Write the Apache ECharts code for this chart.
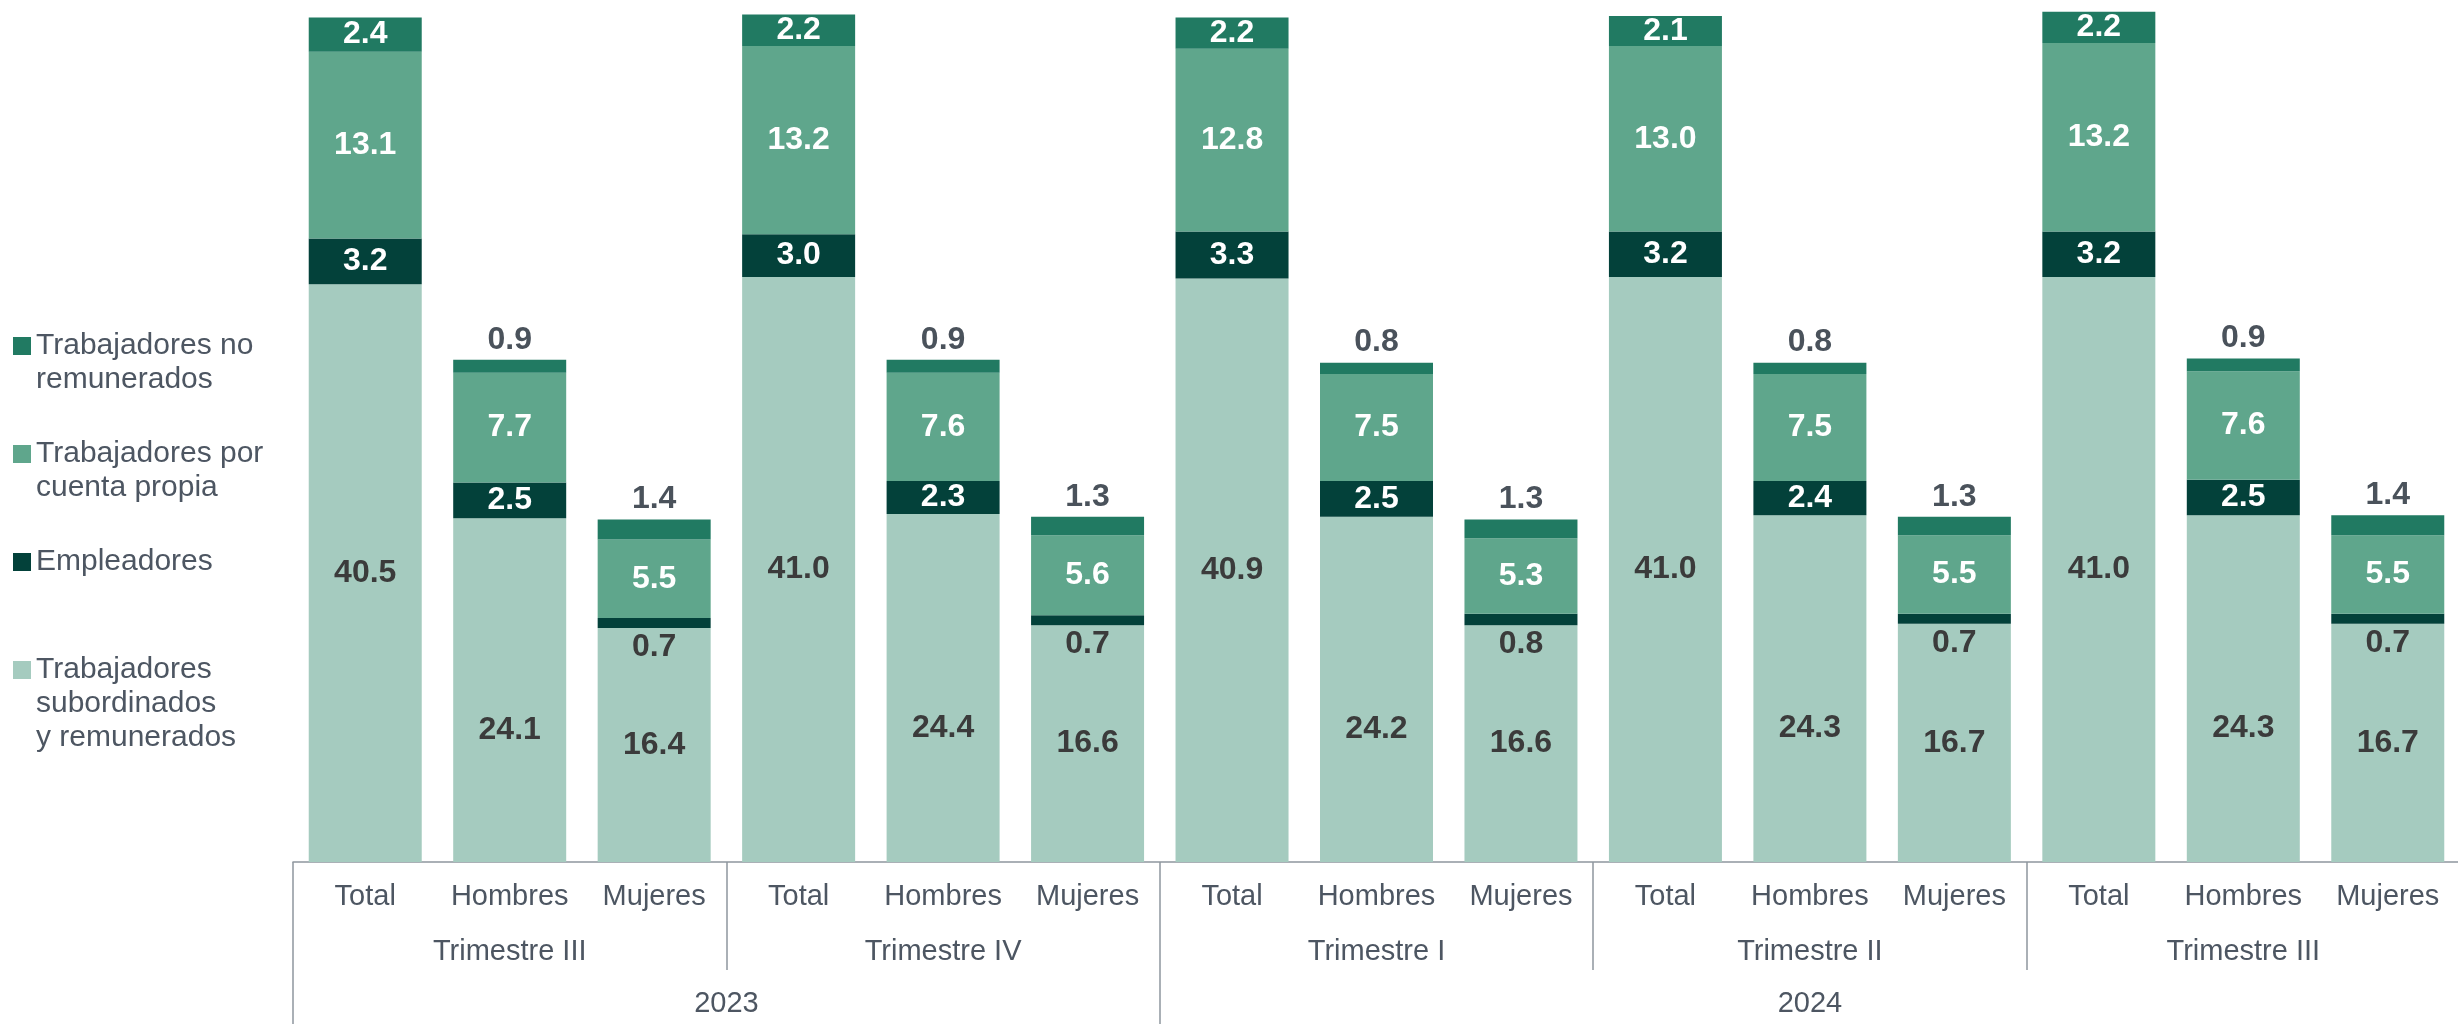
<!DOCTYPE html>
<html>
<head>
<meta charset="utf-8">
<title>Población ocupada según posición en la ocupación</title>
<script src="https://cdn.jsdelivr.net/npm/echarts@6/dist/echarts.min.js"></script>
<style>
    html, body { margin: 0; padding: 0; background: #ffffff; }
    #chart1 { width: 2458px; height: 1024px; }
</style>
</head>
<body>
<div id="chart1"></div>
<script type="text/javascript">
    // categorías del eje x (tres niveles)
    var categorias = ['Total', 'Hombres', 'Mujeres', 'Total', 'Hombres', 'Mujeres', 'Total', 'Hombres', 'Mujeres',
                      'Total', 'Hombres', 'Mujeres', 'Total', 'Hombres', 'Mujeres'];
    var trimestres = ['Trimestre III', 'Trimestre IV', 'Trimestre I', 'Trimestre II', 'Trimestre III'];
    var anios = ['2023', '2024'];
    var trimestresPorAnio = [2, 3];
    var barrasPorTrimestre = 3;

    // valores (millones de personas)
    var subordinados = [40.5, 24.1, 16.4, 41.0, 24.4, 16.6, 40.9, 24.2, 16.6, 41.0, 24.3, 16.7, 41.0, 24.3, 16.7];
    var empleadores = [3.2, 2.5, 0.7, 3.0, 2.3, 0.7, 3.3, 2.5, 0.8, 3.2, 2.4, 0.7, 3.2, 2.5, 0.7];
    var cuentaPropia = [13.1, 7.7, 5.5, 13.2, 7.6, 5.6, 12.8, 7.5, 5.3, 13.0, 7.5, 5.5, 13.2, 7.6, 5.5];
    var noRemunerados = [2.4, 0.9, 1.4, 2.2, 0.9, 1.3, 2.2, 0.8, 1.3, 2.1, 0.8, 1.3, 2.2, 0.9, 1.4];

    var nombres = ['Trabajadores subordinados y remunerados', 'Empleadores',
                   'Trabajadores por cuenta propia', 'Trabajadores no remunerados'];
    var nombresLeyenda = {
        'Trabajadores no remunerados': 'Trabajadores no\nremunerados',
        'Trabajadores por cuenta propia': 'Trabajadores por\ncuenta propia',
        'Empleadores': 'Empleadores',
        'Trabajadores subordinados y remunerados': 'Trabajadores\nsubordinados\ny remunerados'
    };
    var colores = ['#a5cbbf', '#03413a', '#5fa68c', '#217a62'];

    var fuente = '"Liberation Sans", Arial, sans-serif';
    var grisTexto = '#4d5662';
    var grisEje = '#8e969e';
    var oscuro = '#3b3b3b';

    // posiciones de separadores y etiquetas de los niveles superiores
    var ticksTrim = [], etiqTrim = [];
    for (var q = 0; q < trimestres.length; q++) {
        if (q > 0) ticksTrim.push(q * barrasPorTrimestre);
        etiqTrim.push(q * barrasPorTrimestre + barrasPorTrimestre / 2);
    }
    var ticksAnio = [], etiqAnio = [], acum = 0;
    for (var a = 0; a < anios.length; a++) {
        var n = trimestresPorAnio[a] * barrasPorTrimestre;
        ticksAnio.push(acum);
        etiqAnio.push(acum + n / 2);
        acum += n;
    }

    var etiquetaValor = function (p) { return p.value.toFixed(1); };

    function serie(idx, datos, labelBase, especial) {
        return {
            name: nombres[idx],
            type: 'bar',
            stack: 'total',
            barWidth: 113,
            itemStyle: { color: colores[idx] },
            label: labelBase,
            data: datos.map(function (v, i) {
                var extra = especial(categorias[i]);
                return extra ? { value: v, label: extra } : v;
            })
        };
    }

    var labelComun = { show: true, position: 'inside', fontFamily: fuente, fontWeight: 'bold', fontSize: 32, formatter: etiquetaValor };

    var myChart1 = echarts.init(document.getElementById('chart1'));

    // una leyenda por elemento; el cuadro queda alineado con la primera línea del texto
    var lineaLeyenda = 34;
    var centroIcono = [346, 454, 562, 670];
    var ordenLeyenda = [3, 2, 1, 0];
    var leyendas = [];
    for (var k = 0; k < ordenLeyenda.length; k++) {
        var nom = nombres[ordenLeyenda[k]];
        var lineas = nombresLeyenda[nom].split('\n').length;
        leyendas.push({
            data: [nom],
            left: 13,
            top: centroIcono[k] - (2 * lineas - 1) * lineaLeyenda / 2,
            padding: 0,
            icon: 'rect',
            itemWidth: 18,
            itemHeight: 18,
            selectedMode: false,
            formatter: function (name) {
                var t = nombresLeyenda[name];
                var extra = t.split('\n').length - 1;
                return new Array(extra + 1).join('\n') + t;
            },
            textStyle: { fontFamily: fuente, fontSize: 30, color: grisTexto, lineHeight: lineaLeyenda }
        });
    }

    myChart1.setOption({
        backgroundColor: '#ffffff',
        animation: false,
        legend: leyendas,
        grid: { left: 293, right: -2, top: 6, bottom: 162, outerBoundsMode: 'none' },
        xAxis: [{
            type: 'category',
            data: categorias,
            position: 'bottom',
            axisLine: { show: true, lineStyle: { color: grisEje, width: 1.5 } },
            axisTick: { show: false },
            axisLabel: { fontFamily: fuente, fontSize: 29, color: grisTexto, margin: 20, interval: 0 }
        }, {
            type: 'value',
            min: 0,
            max: categorias.length,
            position: 'bottom',
            axisLine: { show: false },
            splitLine: { show: false },
            axisTick: { show: true, customValues: ticksTrim, length: 108, lineStyle: { color: grisEje, width: 1.5 } },
            axisLabel: {
                customValues: etiqTrim, margin: 75, fontFamily: fuente, fontSize: 29, color: grisTexto,
                formatter: function (v) { return trimestres[Math.floor(v / barrasPorTrimestre)]; }
            }
        }, {
            type: 'value',
            min: 0,
            max: categorias.length,
            position: 'bottom',
            axisLine: { show: false },
            splitLine: { show: false },
            axisTick: { show: true, customValues: ticksAnio, length: 170, lineStyle: { color: grisEje, width: 1.5 } },
            axisLabel: {
                customValues: etiqAnio, margin: 127, fontFamily: fuente, fontSize: 29, color: grisTexto,
                formatter: function (v) {
                    for (var i = ticksAnio.length - 1; i >= 0; i--) {
                        if (v >= ticksAnio[i]) return anios[i];
                    }
                    return '';
                }
            }
        }],
        yAxis: {
            type: 'value',
            min: 0,
            max: 60,
            show: false,
            splitLine: { show: false }
        },
        series: [
            serie(0, subordinados, Object.assign({}, labelComun, { color: oscuro }), function (c) {
                return c === 'Hombres' ? { offset: [0, 40] } : null;
            }),
            serie(1, empleadores, Object.assign({}, labelComun, { color: '#ffffff' }), function (c) {
                return c === 'Mujeres' ? { position: 'bottom', distance: 3, color: oscuro } : null;
            }),
            serie(2, cuentaPropia, Object.assign({}, labelComun, { color: '#ffffff' }), function () { return null; }),
            serie(3, noRemunerados, Object.assign({}, labelComun, { color: '#ffffff' }), function (c) {
                return c !== 'Total' ? { position: 'top', distance: 4, color: '#4a525b' } : null;
            })
        ]
    });
</script>
</body>
</html>
